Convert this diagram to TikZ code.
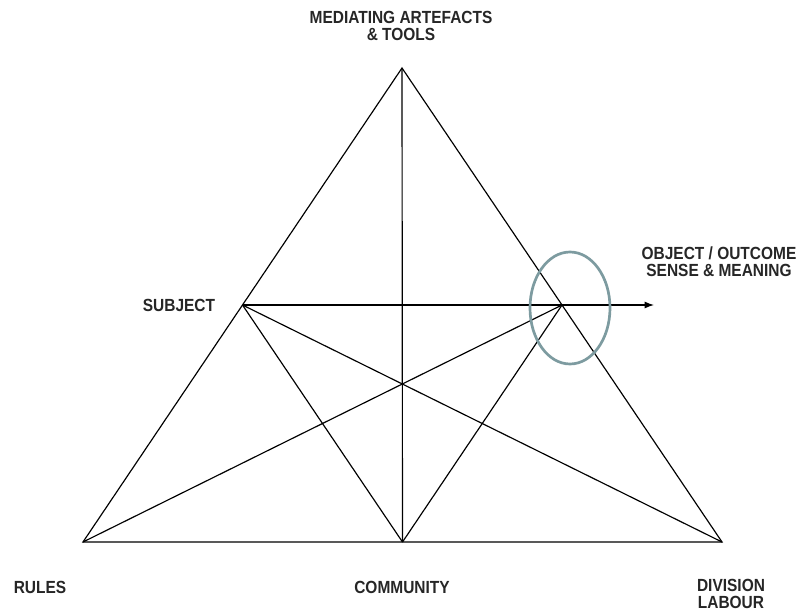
\documentclass[tikz,border=0pt]{standalone}
\usepackage{fontspec}
\newfontfamily\lblfont[FakeStretch=0.88]{Liberation Sans}
\usetikzlibrary{calc,arrows.meta}
\definecolor{ringcol}{RGB}{125,155,160}
\tikzset{lbl/.style={font=\lblfont\bfseries\fontsize{15}{14.5}\selectfont, align=center, text=black!85, inner sep=0pt}}

\begin{document}
\begin{tikzpicture}[x=0.03cm, y=-0.03cm, line width=1pt]
\useasboundingbox (0,0) rectangle (800,612);
%corners of the triangle
\coordinate (tools) at (402,68);
\coordinate (rules) at (83,542);
\coordinate (labour) at (722,542);
\coordinate (community) at ($(rules)!.5!(labour)$);
\coordinate (subject) at ($(rules)!.5!(tools)$);
\coordinate (object) at ($(labour)!.5!(tools)$);
\coordinate (outcome) at (654,305);

\draw (rules) -- (tools) -- (labour) -- cycle;
\draw (tools) -- (community);
\draw[-{Latex[length=8pt,width=6pt]}] (subject) -- (outcome);
\foreach \a/\b in {subject/community, subject/labour, object/rules, object/community} {\draw (\a) -- (\b);}
\draw[ringcol, line width=2.3pt] (570,308) ellipse (40 and 56);

\node[lbl] (toolsl) at (401,26) {MEDIATING ARTEFACTS\\\& TOOLS};
\node[lbl] (subjectl) at (179,305) {SUBJECT};
\node[lbl] (objectl) at (719,262) {OBJECT / OUTCOME\\SENSE \& MEANING};
\node[lbl] (rulesl) at (40,587) {RULES};
\node[lbl] (communityl) at (402,587) {COMMUNITY};
\node[lbl] (labourl) at (731,594) {DIVISION\\LABOUR};
\end{tikzpicture}
\end{document}
